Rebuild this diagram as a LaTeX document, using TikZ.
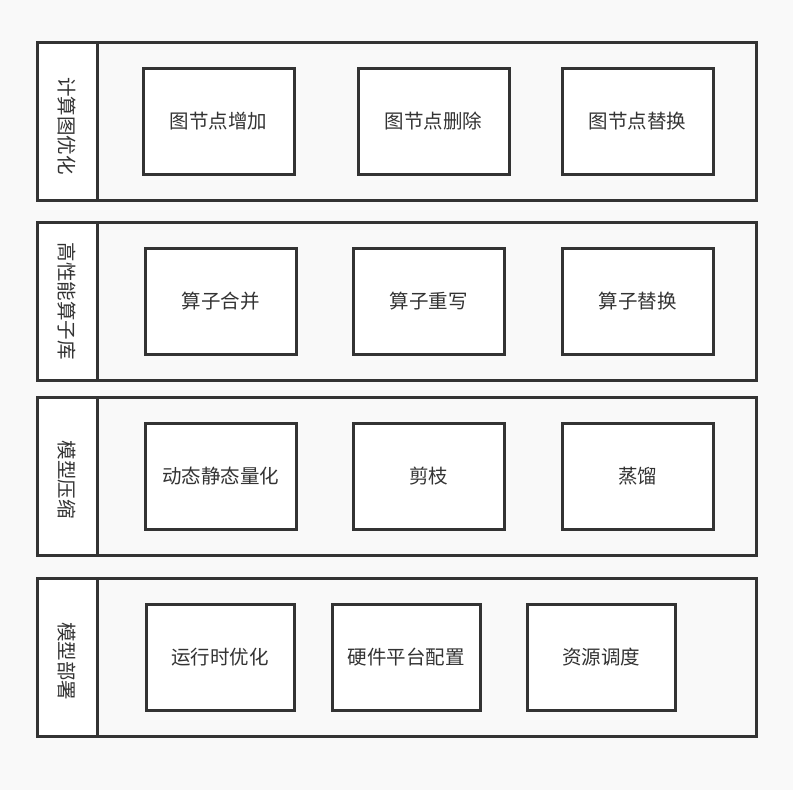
\documentclass[tikz,border=0pt]{standalone}
\usepackage{fontspec}
\usepackage{tikz}
\usepackage{xcolor}
\setmainfont{Noto Sans CJK SC}
\definecolor{linedark}{HTML}{333333}
\definecolor{pagegray}{HTML}{F9F9F9}
\newcommand{\BoxFont}{\fontsize{19.5}{22}\selectfont}

\begin{document}
\begin{tikzpicture}[x=1pt,y=-1pt,font=\BoxFont,
  layer/.style={draw=linedark,line width=3pt,minimum width=719pt,minimum height=158pt,inner sep=0pt},
  sidelabel/.style={draw=linedark,fill=white,line width=3pt,minimum width=60pt,minimum height=158pt,inner sep=0pt,text=linedark},
  sidetext/.style={rotate=-90,text=linedark},
  opbox/.style={draw=linedark,fill=white,line width=3pt,minimum width=151pt,minimum height=106pt,inner sep=0pt,text=linedark}]
  \fill[pagegray] (0,0) rectangle (793,790);
  \useasboundingbox (0,0) rectangle (793,790);

  % 计算图优化
  \node[layer] (row1) at (396.5,121) {};
  \node[sidelabel] (lab1) at (67,121) {};
  \node[sidetext] at ([yshift=-5pt]lab1.center) {计算图优化};
  \node[opbox] (add) at (218.5,121) {图节点增加};
  \node[opbox] (del) at (433.5,121) {图节点删除};
  \node[opbox] (rep) at (637.5,121) {图节点替换};

  % 高性能算子库
  \node[layer] (row2) at (396.5,301) {};
  \node[sidelabel] (lab2) at (67,301) {};
  \node[sidetext] at (lab2.center) {高性能算子库};
  \node[opbox] (merge) at (220.5,301) {算子合并};
  \node[opbox] (rewrite) at (428.5,301) {算子重写};
  \node[opbox] (swap) at (637.5,301) {算子替换};

  % 模型压缩
  \node[layer] (row3) at (396.5,476.5) {};
  \node[sidelabel] (lab3) at (67,476.5) {};
  \node[sidetext] at ([yshift=-3pt]lab3.center) {模型压缩};
  \node[opbox] (quant) at (220.5,476.5) {动态静态量化};
  \node[opbox] (prune) at (428.5,476.5) {剪枝};
  \node[opbox] (distill) at (637.5,476.5) {蒸馏};

  % 模型部署
  \node[layer] (row4) at (396.5,657) {};
  \node[sidelabel] (lab4) at (67,657) {};
  \node[sidetext] at ([yshift=-4pt]lab4.center) {模型部署};
  \node[opbox,minimum width=148pt] (runtime) at (220,657) {运行时优化};
  \node[opbox,minimum width=148pt] (hw) at (406,657) {硬件平台配置};
  \node[opbox,minimum width=148pt] (sched) at (601,657) {资源调度};
\end{tikzpicture}
\end{document}
